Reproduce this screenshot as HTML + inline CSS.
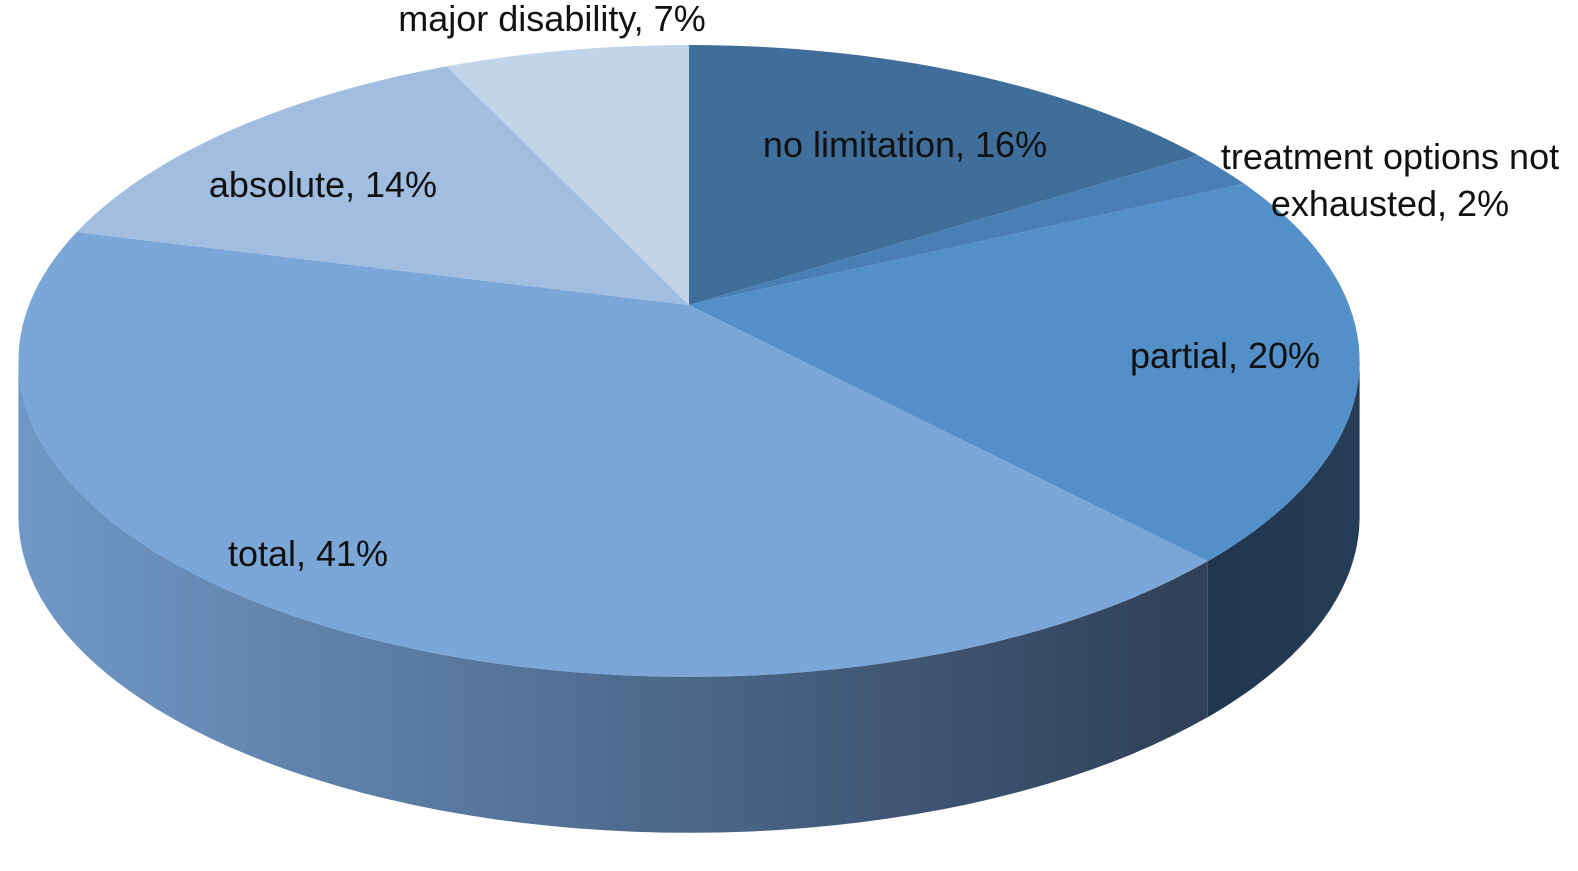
<!DOCTYPE html>
<html><head><meta charset="utf-8"><style>
html,body{margin:0;padding:0;background:#fff;}
svg text{font-family:"Liberation Sans",sans-serif;font-size:36px;fill:#111;}
</style></head><body>
<svg id="chart" width="1578" height="866" viewBox="0 0 1578 866" xmlns="http://www.w3.org/2000/svg">
<defs>
<linearGradient id="sideGrad" x1="20" y1="0" x2="1200" y2="0" gradientUnits="userSpaceOnUse">
<stop offset="0" stop-color="#7098c6"/><stop offset="0.5" stop-color="#4f6d90"/><stop offset="1" stop-color="#2f4058"/>
</linearGradient>
<linearGradient id="sideGrad2" x1="1180" y1="0" x2="1355" y2="0" gradientUnits="userSpaceOnUse">
<stop offset="0" stop-color="#1f344c"/><stop offset="1" stop-color="#263d58"/>
</linearGradient>
</defs>
<g id="sides"></g><g id="tops"></g><g id="labels"></g>
</svg>
<script>
const categories=["no limitation","treatment options not exhausted","partial","total","absolute","major disability"];
const values=[16,2,20,41,14,7];
const colors=["#406e9a","#4a7fb5","#538fc8","#7aa7d8","#a1bde0","#c2d4ea"];
const labelLines=[["no limitation, 16%"],["treatment options not","exhausted, 2%"],["partial, 20%"],["total, 41%"],["absolute, 14%"],["major disability, 7%"]];
const labelPos=[[905,157,"middle"],[1390,169,"middle"],[1225,368,"middle"],[308,566,"middle"],[323,197,"middle"],[552,31,"middle"]];
const vx=689,vy=305,A=660,B=306,K=0.177,depth=156;
const NS="http://www.w3.org/2000/svg";
function pt(deg,dy){const r=deg*Math.PI/180;const w=1+K*Math.cos(r);return [vx+A*Math.sin(r)/w,vy-B*Math.cos(r)/w+(dy||0)];}
const silL=180-Math.acos(K)*180/Math.PI;
const silR=360-silL;
const total=values.reduce((a,b)=>a+b,0);
let acc=0;const starts=[],ends=[];
values.forEach(v=>{starts.push(acc/total*360);acc+=v;ends.push(acc/total*360);});
const sides=document.getElementById('sides'),tops=document.getElementById('tops'),labels=document.getElementById('labels');
values.forEach((v,i)=>{
 const a1=Math.max(starts[i],silL),a2=Math.min(ends[i],silR);
 if(a2>a1){
  let pts=[];
  for(let k=0;k<=60;k++){pts.push(pt(a1+(a2-a1)*k/60,0));}
  for(let k=60;k>=0;k--){pts.push(pt(a1+(a2-a1)*k/60,depth));}
  const p=document.createElementNS(NS,'polygon');
  p.setAttribute('points',pts.map(q=>q[0].toFixed(1)+','+q[1].toFixed(1)).join(' '));
  p.setAttribute('fill',i===2?'url(#sideGrad2)':'url(#sideGrad)');
  
  
  sides.appendChild(p);
 }
 let pts=[[vx,vy]];
 const n=Math.max(4,Math.ceil(v*2));
 for(let k=0;k<=n;k++)pts.push(pt(starts[i]+(ends[i]-starts[i])*k/n,0));
 const s=document.createElementNS(NS,'polygon');
 s.setAttribute('points',pts.map(q=>q[0].toFixed(1)+','+q[1].toFixed(1)).join(' '));
 s.setAttribute('fill',colors[i]);
 
 
 tops.appendChild(s);
 const t=document.createElementNS(NS,'text');
 t.setAttribute('x',labelPos[i][0]);t.setAttribute('y',labelPos[i][1]);
 t.setAttribute('text-anchor',labelPos[i][2]);
 
 
 labelLines[i].forEach((ln,j)=>{const ts=document.createElementNS(NS,'tspan');ts.setAttribute('x',labelPos[i][0]);ts.setAttribute('dy',j?'47':'0');ts.textContent=ln;t.appendChild(ts);});
 labels.appendChild(t);
});
</script>
</body></html>
